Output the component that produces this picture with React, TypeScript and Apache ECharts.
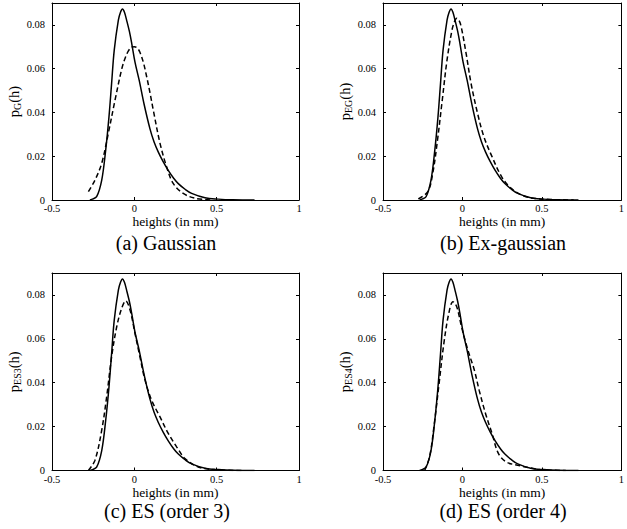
import React, { useEffect, useRef } from "react";
import * as echarts from "echarts";

// Empirical density (solid, same in all panels)
const empX = [-0.27, -0.259, -0.229, -0.198, -0.174, -0.154, -0.138, -0.122, -0.097, -0.084, -0.072, -0.06, -0.047, -0.03, -0.016, 0.004, 0.03, 0.06, 0.095, 0.12, 0.145, 0.175, 0.206, 0.24, 0.267, 0.31, 0.348, 0.429, 0.51, 0.6, 0.73];
const empY = [0, 0.0003, 0.0015, 0.0091, 0.0228, 0.038, 0.0533, 0.0685, 0.0822, 0.0858, 0.0873, 0.0858, 0.0822, 0.077, 0.0716, 0.063, 0.0545, 0.0435, 0.0325, 0.0265, 0.022, 0.0175, 0.0135, 0.0098, 0.0075, 0.0048, 0.003, 0.001, 0.0004, 0.0001, 0];

// (a) Gaussian fit
const gX = [-0.279, -0.239, -0.198, -0.158, -0.117, -0.077, -0.056, -0.036, -0.017, 0, 0.017, 0.034, 0.055, 0.075, 0.095, 0.115, 0.156, 0.196, 0.236, 0.297, 0.368, 0.47];
const gY = [0.0038, 0.0091, 0.0168, 0.0305, 0.0457, 0.0597, 0.0648, 0.0681, 0.0698, 0.07, 0.0695, 0.0675, 0.0628, 0.0563, 0.049, 0.0411, 0.0259, 0.0152, 0.0076, 0.003, 0.0008, 0];

// (b) Ex-gaussian fit
const egX = [-0.278, -0.218, -0.187, -0.157, -0.127, -0.097, -0.066, -0.05, -0.036, -0.02, -0.006, 0.024, 0.054, 0.095, 0.135, 0.186, 0.246, 0.307, 0.387, 0.488, 0.7];
const egY = [0.0005, 0.0038, 0.0122, 0.0274, 0.0457, 0.064, 0.0776, 0.0815, 0.083, 0.0818, 0.0785, 0.0665, 0.0533, 0.0396, 0.0289, 0.0198, 0.0107, 0.0053, 0.0018, 0.0005, 0];

// (c) ES order 3 fit
const es3X = [-0.279, -0.239, -0.198, -0.168, -0.138, -0.107, -0.077, -0.052, -0.026, 0.004, 0.034, 0.065, 0.105, 0.156, 0.206, 0.257, 0.307, 0.388, 0.49, 0.65];
const es3Y = [0, 0.0047, 0.0184, 0.0336, 0.0518, 0.0655, 0.0739, 0.0773, 0.0731, 0.0625, 0.0518, 0.0412, 0.032, 0.0244, 0.0169, 0.0108, 0.0055, 0.0016, 0.0004, 0];

// (d) ES order 4 fit
const es4X = [-0.238, -0.207, -0.177, -0.147, -0.117, -0.086, -0.06, -0.036, -0.006, 0.034, 0.075, 0.105, 0.145, 0.186, 0.226, 0.276, 0.347, 0.447, 0.5, 0.65];
const es4Y = [0, 0.0062, 0.0214, 0.0397, 0.0579, 0.0716, 0.0769, 0.0746, 0.0655, 0.0549, 0.0457, 0.0366, 0.026, 0.0169, 0.0078, 0.0039, 0.0024, 0.0009, 0.0003, 0];

const captions = ["(a) Gaussian", "(b) Ex-gaussian", "(c) ES (order 3)", "(d) ES (order 4)"];
const subscripts = ["G", "EG", "ES3", "ES4"];
const xName = "heights (in mm)";

const FONT = "'Liberation Serif', 'Times New Roman', serif";

const zip = (xs: number[], ys: number[]) => xs.map((x, i) => [x, ys[i]]);

export default function App() {
  const ref = useRef<HTMLDivElement>(null);
  useEffect(() => {
    if (!ref.current) return;
    const chart = echarts.init(ref.current, null, { renderer: "svg" });
    const grids = [
      { left: 52, top: 3, width: 247, height: 197 },
      { left: 383, top: 3, width: 247, height: 197 },
      { left: 52, top: 273, width: 247, height: 197.5 },
      { left: 383, top: 273, width: 247, height: 197.5 },
    ];
    const nameGaps = [14, 14, 10.5, 10.5];
    const fits = [zip(gX, gY), zip(egX, egY), zip(es3X, es3Y), zip(es4X, es4Y)];
    const emp = zip(empX, empY);
    const lineStyle = { color: "#000", width: 1 };
    const xAxes: any[] = [];
    const yAxes: any[] = [];
    grids.forEach((_, i) => {
      xAxes.push({
        type: "value", gridIndex: i, min: -0.5, max: 1, interval: 0.5, position: "bottom",
        name: xName, nameLocation: "middle", nameGap: nameGaps[i],
        nameTextStyle: { fontFamily: FONT, fontSize: 13.5, color: "#000", lineHeight: 14 },
        axisLine: { show: true, onZero: false, lineStyle },
        axisTick: { show: true, inside: true, length: 3, lineStyle },
        axisLabel: { fontFamily: FONT, fontSize: 10.5, color: "#000", margin: 3 },
        splitLine: { show: false },
      });
      yAxes.push({
        type: "value", gridIndex: i, min: 0, max: 0.09, interval: 0.02, position: "left",
        name: `{p|p}{s|${subscripts[i]}}{p|(h)}`, nameLocation: "middle", nameRotate: 90, nameGap: 29,
        nameTextStyle: {
          color: "#000",
          rich: {
            p: { fontFamily: FONT, fontSize: 14.5, color: "#000" },
            s: { fontFamily: FONT, fontSize: 10, color: "#000", padding: [8, 0, 0, 0] },
          },
        },
        axisLine: { show: true, onZero: false, lineStyle },
        axisTick: { show: true, inside: true, length: 3, lineStyle },
        axisLabel: { fontFamily: FONT, fontSize: 10.5, color: "#000", margin: 7, showMaxLabel: false },
        splitLine: { show: false },
      });
    });
    grids.forEach((_, i) => {
      xAxes.push({
        type: "value", gridIndex: i, min: -0.5, max: 1, interval: 0.5, position: "top",
        axisLine: { show: true, onZero: false, lineStyle },
        axisTick: { show: true, inside: true, length: 3, lineStyle },
        axisLabel: { show: false },
        splitLine: { show: false },
      });
      yAxes.push({
        type: "value", gridIndex: i, min: 0, max: 0.09, interval: 0.02, position: "right",
        axisLine: { show: true, onZero: false, lineStyle },
        axisTick: { show: true, inside: true, length: 3, lineStyle },
        axisLabel: { show: false },
        splitLine: { show: false },
      });
    });
    const series: any[] = [];
    grids.forEach((_, i) => {
      series.push({
        type: "line", xAxisIndex: i, yAxisIndex: i, data: emp, showSymbol: false,
        smooth: 0.35,
        lineStyle: { color: "#000", width: 1.5 },
      });
      series.push({
        type: "line", xAxisIndex: i, yAxisIndex: i, data: fits[i], showSymbol: false,
        smooth: 0.35,
        lineStyle: { color: "#000", width: 1.5, type: [5, 3] },
      });
    });
    const capPos = [
      [166, 243],
      [503, 243],
      [167, 511],
      [503, 511],
    ];
    chart.setOption({
      animation: false,
      backgroundColor: "#fff",
      grid: grids,
      xAxis: xAxes,
      yAxis: yAxes,
      series,
      graphic: captions.map((c, i) => ({
        type: "text",
        x: capPos[i][0],
        y: capPos[i][1],
        style: {
          text: c,
          fontFamily: FONT,
          fontSize: 20,
          fill: "#000",
          textAlign: "center",
          textVerticalAlign: "middle",
        },
      })),
    });
    return () => chart.dispose();
  }, []);
  return (
    <div
      ref={ref}
      style={{ position: "fixed", left: 0, top: 0, width: 627, height: 529, background: "#fff" }}
    />
  );
}
